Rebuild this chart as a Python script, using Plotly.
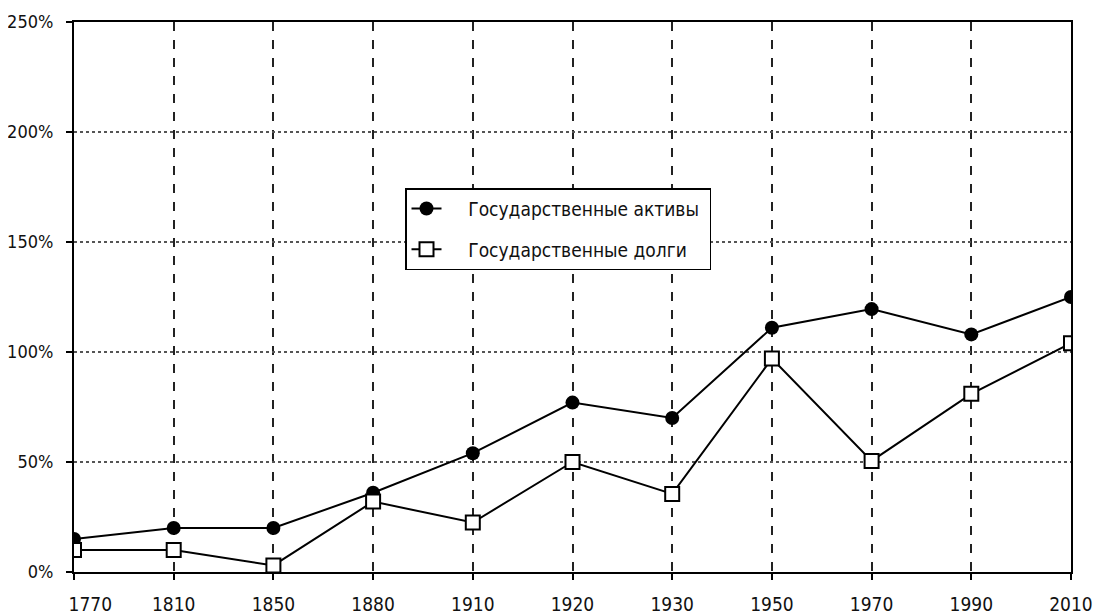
import plotly.graph_objects as go

years  = ["1770", "1810", "1850", "1880", "1910", "1920", "1930", "1950", "1970", "1990", "2010"]
assets = [15, 20, 20, 36, 54, 77, 70, 111, 119.5, 108, 125]
debts  = [10, 10, 3, 32, 22.5, 50, 35.5, 97, 50.5, 81, 104]
y_ticks  = [0, 50, 100, 150, 200, 250]
y_labels = ["0%", "50%", "100%", "150%", "200%", "250%"]

FONT = "DejaVu Sans Condensed, DejaVu Sans, sans-serif"
NB = "\u00a0"

# first year label sits just right of the y axis in the original
x_labels = [NB * 6 + years[0]] + years[1:]

fig = go.Figure()

fig.add_trace(go.Scatter(
    x=years, y=assets, mode="lines+markers",
    name=NB * 4 + "Государственные активы" + NB, legendgroup="a",
    line=dict(color="black", width=2),
    marker=dict(symbol="circle", size=14, color="black"),
))
fig.add_trace(go.Scatter(
    x=years, y=debts, mode="lines+markers",
    name=NB * 4 + "Государственные долги", legendgroup="d",
    line=dict(color="black", width=2),
    marker=dict(symbol="square", size=14, color="white",
                line=dict(color="black", width=2)),
))

# page body adds an 8px offset, so the figure is 8px smaller on each side
fig.update_layout(
    width=1094, height=608,
    margin=dict(l=66, r=31, t=14, b=44),
    plot_bgcolor="white", paper_bgcolor="white",
    font=dict(family=FONT, size=19, color="#111"),
    xaxis=dict(
        type="category", range=[0, 10], automargin=False,
        tickvals=years, ticktext=x_labels,
        showline=True, linecolor="black", linewidth=2, mirror=True,
        ticks="outside", ticklen=6, tickcolor="black", tickwidth=2,
        showgrid=True, gridcolor="#222", gridwidth=1.5, griddash="dash",
        tickfont=dict(size=19), ticklabelstandoff=8,
    ),
    yaxis=dict(
        range=[0, 250], tickvals=y_ticks, ticktext=y_labels,
        automargin=False,
        showline=True, linecolor="black", linewidth=2, mirror=True,
        ticks="outside", ticklen=6, tickcolor="black", tickwidth=2,
        showgrid=True, gridcolor="#555", gridwidth=1.5, griddash="dot",
        zeroline=False, tickfont=dict(size=18), ticklabelstandoff=9,
    ),
    legend=dict(
        x=0.332, y=0.698, xanchor="left", yanchor="top",
        bgcolor="white", bordercolor="black", borderwidth=1.5,
        font=dict(size=19, family=FONT),
        tracegroupgap=13, itemwidth=30,
    ),
)

fig.write_html("out.html")
